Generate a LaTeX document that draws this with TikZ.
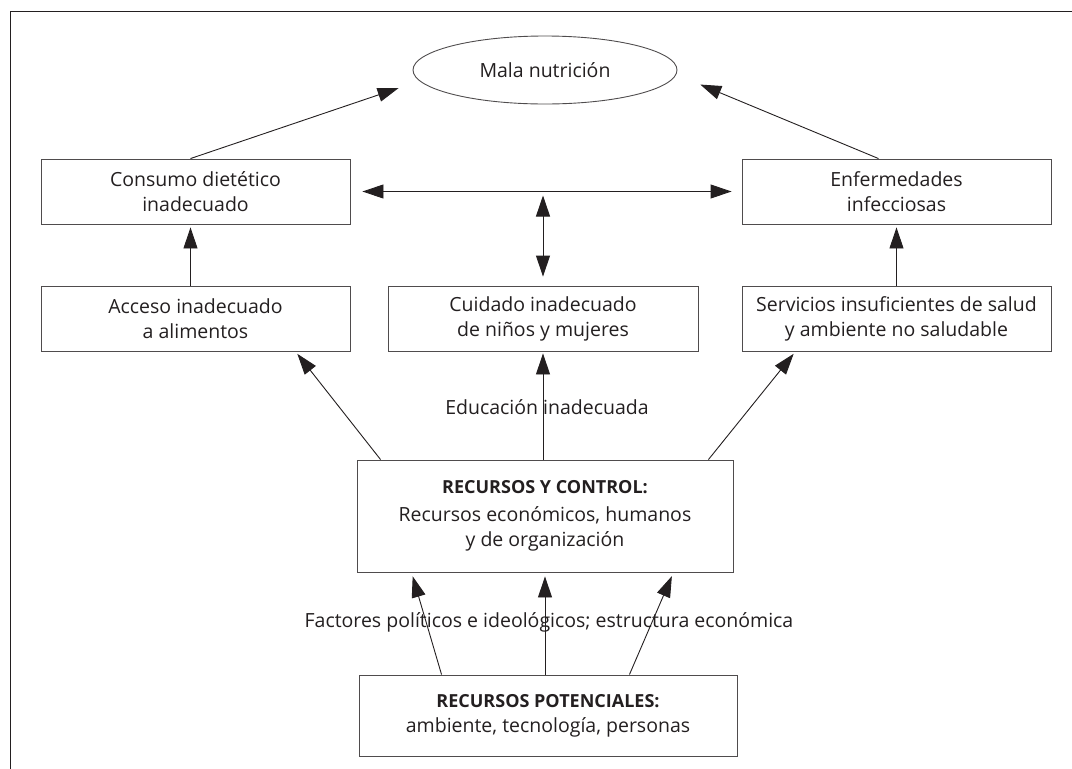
\documentclass[tikz,border=0pt]{standalone}
\usepackage{fontspec}
\setmainfont{Open Sans}
\usetikzlibrary{arrows.meta,shapes.geometric}
\definecolor{ink}{HTML}{231F20}
\begin{document}
\begin{tikzpicture}[x=1pt,y=-1pt,
  every node/.style={text=ink, font=\fontsize{19.5}{25}\selectfont},
  box/.style={draw=ink!80, line width=0.9pt, rectangle, align=center, inner sep=0pt},
  arr/.style={draw=ink, line width=0.9pt, -{Triangle[length=21pt,width=14pt]}},
  darr/.style={draw=ink, line width=0.9pt, {Triangle[length=21pt,width=14pt]}-{Triangle[length=21pt,width=14pt]}},
  lbl/.style={inner sep=0pt}]
\useasboundingbox (0,0) rectangle (1072,769);
% frame (top and left only)
\draw[ink, line width=0.9pt] (1072,11) -- (10,11) -- (10,769);

\node[draw=ink!80, line width=0.9pt, ellipse, minimum width=264pt, minimum height=68pt, inner sep=0pt] (mal) at (545,70) {Mala nutrición};

\node[box, minimum width=309pt, minimum height=65pt] (cons) at (195.5,191.5) {Consumo dietético\\inadecuado};
\node[box, minimum width=309pt, minimum height=65pt] (enf) at (896.5,191.5) {Enfermedades\\infecciosas};

\node[box, minimum width=309pt, minimum height=65pt] (acc) at (195.5,318.5) {Acceso inadecuado\\a alimentos};
\node[box, minimum width=310pt, minimum height=65pt] (cuid) at (543,318.5) {Cuidado inadecuado\\de niños y mujeres};
\node[box, minimum width=309pt, minimum height=65pt] (serv) at (896.5,318.5) {Servicios insuficientes de salud\\y ambiente no saludable};

\node[box, minimum width=376pt, minimum height=112pt] (ryc) at (545,516)
  {{\fontsize{18}{25}\selectfont\bfseries RECURSOS Y CONTROL:}\\[3pt]Recursos económicos, humanos\\y de organización};

\node[box, minimum width=378pt, minimum height=81pt] (pot) at (548,715.5)
  {{\fontsize{18}{25}\selectfont\bfseries RECURSOS POTENCIALES:}\\ambiente, tecnología, personas};

% top arrows to ellipse
\draw[arr, shorten >=22pt] ([xshift=-5pt]cons.north) -- (mal.185);
\draw[arr, shorten >=26pt] ([xshift=-18pt]enf.north) -- (mal.358);

% horizontal double arrow
\draw[darr, shorten <=12pt, shorten >=10pt] (cons.east) -- (enf.west);
% vertical double arrow
\coordinate (hmid) at (cuid.north |- cons.east);
\draw[darr, shorten <=4pt, shorten >=9pt] (hmid) -- (cuid.north);

% row 2 to row 1
\draw[arr, shorten >=3pt] ([xshift=-5pt]acc.north) -- ([xshift=-5pt]cons.south);
\draw[arr, shorten >=3pt] (serv.north) -- (serv.north |- enf.south);

% RyC to row 2
\draw[arr, shorten >=3pt] ([xshift=24pt]ryc.north west) -- ([xshift=-55pt]acc.south east);
\draw[arr, shorten >=2pt] (ryc.north -| cuid.south) -- (cuid.south);
\draw[arr, shorten >=3pt] ([xshift=-25pt]ryc.north east) -- ([xshift=54pt]serv.south west);
\node[lbl] (edu) at (547,407) {Educación inadecuada};

% potential to RyC
\draw[arr, shorten >=4pt] ([xshift=83pt]pot.north west) -- ([xshift=55pt]ryc.south west);
\draw[arr, shorten >=4pt] (ryc.south |- pot.north) -- (ryc.south);
\draw[arr, shorten >=4pt] ([xshift=-108pt]pot.north east) -- ([xshift=-60pt]ryc.south east);
\node[lbl] (fac) at (549,622) {Factores políticos e ideológicos; estructura económica};
\end{tikzpicture}
\end{document}
